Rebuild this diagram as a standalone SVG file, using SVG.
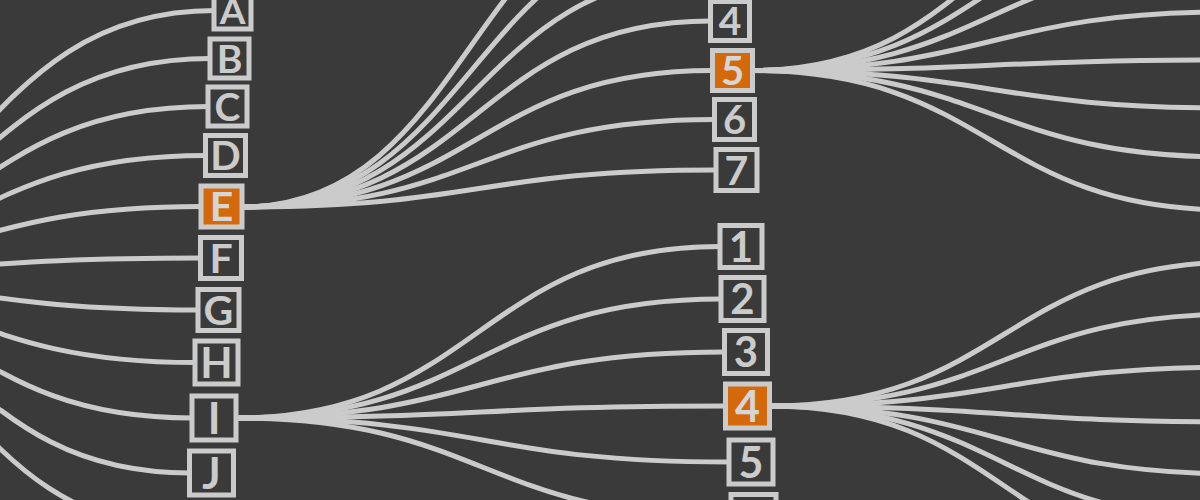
<svg xmlns="http://www.w3.org/2000/svg" width="1200" height="500" viewBox="0 0 1200 500">
<style>
.bg{fill:#3a3a3a}
.link{fill:none;stroke:#cbcbcb;stroke-width:5}
.box{fill:#3a3a3a;stroke:#cbcbcb;stroke-width:5}
.hl{fill:#d4690b;stroke:#cbcbcb;stroke-width:5}
.lbl{fill:#cbcbcb;font-family:Lato,"Liberation Sans",sans-serif;font-weight:bold;text-anchor:middle}
.hlt{fill:#d6d6d6}
</style>
<rect class="bg" x="0" y="0" width="1200" height="500"/>
<g id="connectors">
<path class="link" d="M-278,275 C-31.75,275 -31.75,10.5 214.5,10.5"/>
<path class="link" d="M-278,275 C-33.75,275 -33.75,58.5 210.5,58.5"/>
<path class="link" d="M-278,275 C-34.75,275 -34.75,106.5 208.5,106.5"/>
<path class="link" d="M-278,275 C-36,275 -36,155.5 206,155.5"/>
<path class="link" d="M-278,275 C-38.25,275 -38.25,206.5 201.5,206.5"/>
<path class="link" d="M-278,275 C-38.5,275 -38.5,258 201,258"/>
<path class="link" d="M-278,275 C-39.75,275 -39.75,310 198.5,310"/>
<path class="link" d="M-278,275 C-41.25,275 -41.25,362.5 195.5,362.5"/>
<path class="link" d="M-278,275 C-42.75,275 -42.75,418 192.5,418"/>
<path class="link" d="M-278,275 C-44,275 -44,473 190,473"/>
<path class="link" d="M-278,275 C-45.25,275 -45.25,528 187.5,528"/>

<path class="link" d="M242,207 C472,207 472,-118 702,-118"/>
<path class="link" d="M242,207 C473,207 473,-70 704,-70"/>
<path class="link" d="M242,207 C474,207 474,-24 706,-24"/>
<path class="link" d="M242,207 C476.5,207 476.5,21 711,21"/>
<path class="link" d="M242,207 C477.5,207 477.5,70.5 713,70.5"/>
<path class="link" d="M242,207 C478.5,207 478.5,119.5 715,119.5"/>
<path class="link" d="M242,207 C479,207 479,170 716.5,170"/>

<path class="link" d="M235.5,418 C478,418 478,246.5 720.5,246.5"/>
<path class="link" d="M235.5,418 C478.5,418 478.5,299 721.5,299"/>
<path class="link" d="M235.5,418 C480,418 480,352 725,352"/>
<path class="link" d="M235.5,418 C481,418 481,406 726,406"/>
<path class="link" d="M235.5,418 C482.5,418 482.5,462 729.5,462"/>
<path class="link" d="M235.5,418 C483.5,418 483.5,517 731.5,517"/>

<path class="link" d="M752,70.5 C991,70.5 991,-138 1230,-138"/>
<path class="link" d="M752,70.5 C991,70.5 991,-88 1230,-88"/>
<path class="link" d="M752,70.5 C991,70.5 991,-38 1230,-38"/>
<path class="link" d="M752,70.5 C991,70.5 991,12 1230,12"/>
<path class="link" d="M752,70.5 C991,70.5 991,60 1230,60"/>
<path class="link" d="M752,70.5 C991,70.5 991,108 1230,108"/>
<path class="link" d="M752,70.5 C991,70.5 991,157 1230,157"/>
<path class="link" d="M752,70.5 C991,70.5 991,210 1230,210"/>

<path class="link" d="M769,406 C1004.5,406 1004.5,262 1240,262"/>
<path class="link" d="M769,406 C1004.5,406 1004.5,314 1240,314"/>
<path class="link" d="M769,406 C1004.5,406 1004.5,367 1240,367"/>
<path class="link" d="M769,406 C1004.5,406 1004.5,422 1240,422"/>
<path class="link" d="M769,406 C1004.5,406 1004.5,474 1240,474"/>
<path class="link" d="M769,406 C1004.5,406 1004.5,520 1240,520"/>
<path class="link" d="M769,406 C1004.5,406 1004.5,566 1240,566"/>
</g>

<g id="node-A"><rect class="box" x="214" y="-8" width="37" height="37"/><text class="lbl" x="232.5" y="24" font-size="37">A</text></g>
<g id="node-B"><rect class="box" x="210" y="39" width="39" height="39"/><text class="lbl" x="229.5" y="72.5" font-size="39">B</text></g>
<g id="node-C"><rect class="box" x="208" y="87" width="39" height="39"/><text class="lbl" x="227.5" y="120.5" font-size="39">C</text></g>
<g id="node-D"><rect class="box" x="205.5" y="135.5" width="40" height="40"/><text class="lbl" x="225.5" y="170" font-size="40">D</text></g>
<g id="node-E"><rect class="hl" x="201" y="186" width="41" height="41"/><text class="lbl hlt" x="221.5" y="221" font-size="41">E</text></g>
<g id="node-F"><rect class="box" x="200.5" y="237.5" width="41" height="41"/><text class="lbl" x="221" y="272.7" font-size="41">F</text></g>
<g id="node-G"><rect class="box" x="198" y="289.5" width="41" height="41"/><text class="lbl" x="218.5" y="324.7" font-size="41">G</text></g>
<g id="node-H"><rect class="box" x="195" y="341" width="43" height="43"/><text class="lbl" x="216.5" y="377.8" font-size="42">H</text></g>
<g id="node-I"><rect class="box" x="192" y="396" width="44" height="44"/><text class="lbl" x="214" y="433.5" font-size="43">I</text></g>
<g id="node-J"><rect class="box" x="189.5" y="451" width="44" height="44"/><text class="lbl" x="211.5" y="488.5" font-size="43">J</text></g>

<g id="node-t4"><rect class="box" x="710.5" y="1.5" width="39" height="39"/><text class="lbl" x="730" y="35" font-size="39">4</text></g>
<g id="node-t5"><rect class="hl" x="712.5" y="50.5" width="40" height="40"/><text class="lbl hlt" x="732.5" y="85" font-size="40">5</text></g>
<g id="node-t6"><rect class="box" x="714.5" y="99.5" width="40" height="40"/><text class="lbl" x="734.5" y="134" font-size="40">6</text></g>
<g id="node-t7"><rect class="box" x="716" y="149.5" width="41" height="41"/><text class="lbl" x="736.5" y="184.7" font-size="41">7</text></g>

<g id="node-b1"><rect class="box" x="720" y="225.5" width="42" height="42"/><text class="lbl" x="741" y="261.8" font-size="42">1</text></g>
<g id="node-b2"><rect class="box" x="721" y="277.5" width="43" height="43"/><text class="lbl" x="742.5" y="314.2" font-size="42">2</text></g>
<g id="node-b3"><rect class="box" x="724.5" y="330.5" width="43" height="43"/><text class="lbl" x="746" y="367.2" font-size="42">3</text></g>
<g id="node-b4"><rect class="hl" x="725.5" y="384" width="44" height="44"/><text class="lbl hlt" x="747.5" y="421.5" font-size="43">4</text></g>
<g id="node-b5"><rect class="box" x="729" y="440" width="44" height="44"/><text class="lbl" x="751" y="477.5" font-size="43">5</text></g>
<g id="node-b6"><rect class="box" x="731" y="494.5" width="45" height="45"/></g>
</svg>
